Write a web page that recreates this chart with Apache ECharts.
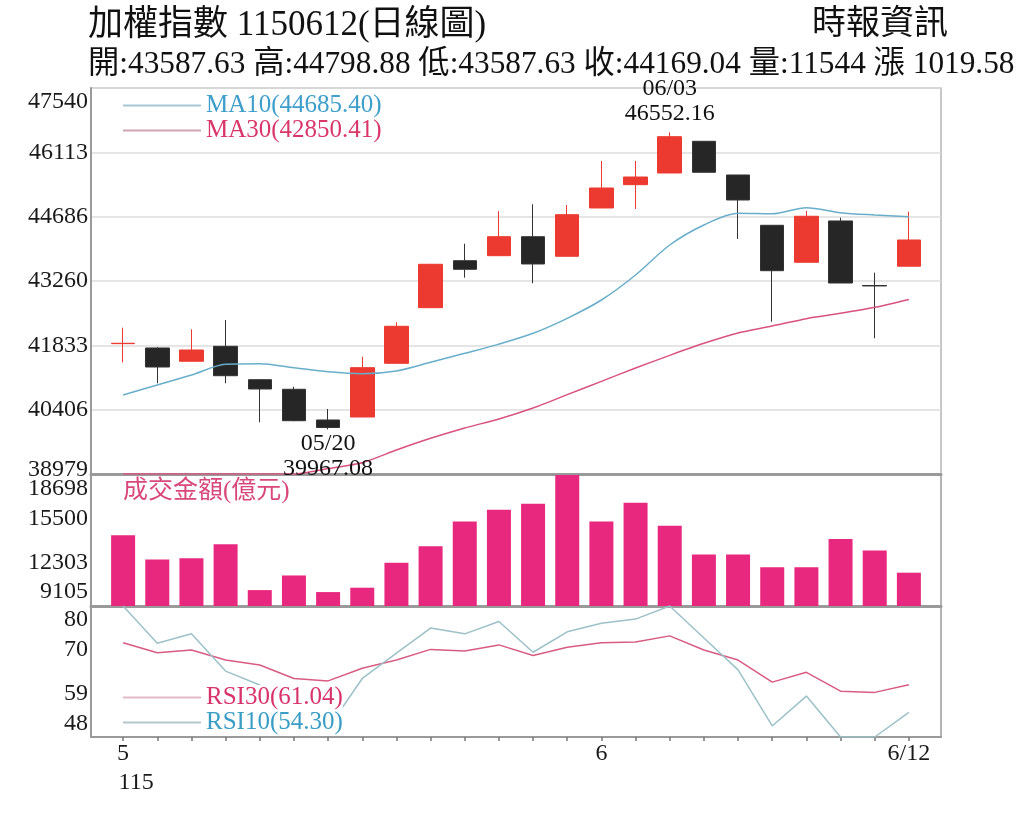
<!DOCTYPE html>
<html>
<head>
<meta charset="utf-8">
<script src="https://cdn.jsdelivr.net/npm/echarts@6/dist/echarts.min.js"></script>
<style>
  html, body { margin: 0; background: #fff; }
  #chart { width: 1024px; height: 820px; }
</style>
</head>
<body>
<div id="chart"></div>
<script>
const DATES = ['05/12', '05/13', '05/14', '05/15', '05/18', '05/19', '05/20', '05/21', '05/22', '05/25', '05/26', '05/27',
  '05/28', '05/29', '06/01', '06/02', '06/03', '06/04', '06/05', '06/08', '06/09', '06/10', '06/11', '06/12'];
const OPEN = [41870, 41774, 41479, 41811, 41071, 40858, 40177, 40243, 41434, 42668, 43710, 43821,
  44242, 43808, 44879, 45396, 45655, 46358, 45611, 44495, 43675, 44591, 43160, 43587.63];
const CLOSE = [41878, 41352, 41729, 41159, 40864, 40161, 40010, 41337, 42255, 43630, 43519, 44242,
  43637, 44730, 45322, 45566, 46460, 45671, 45056, 43488, 44695, 43215, 43149.46, 44169.04];
const LOW = [41457, 40991, 41479, 40991, 40126, 40150, 39967.08, 40243, 41434, 42668, 43333, 43821,
  43209, 43808, 44879, 44857, 45655, 45671, 44191, 42357, 43675, 43215, 41989, 43587.63];
const HIGH = [42224, 41790, 42188, 42395, 41080, 40915, 40421, 41581, 42344, 43640, 44087, 44812,
  44961, 44945, 45921, 45921, 46552.16, 46358, 45611, 44495, 44812, 44664, 43444, 44798.88];
const MA10 = [40731, 40953, 41175, 41412, 41425, 41337, 41248, 41204, 41264, 41456, 41656, 41860,
  42100, 42432, 42838, 43393, 44058, 44502, 44761, 44750, 44886, 44775, 44724, 44685.40];
const MA30 = [38979, 38979, 38979, 38979, 38979, 38979, 39100, 39230, 39511, 39770, 40000, 40200,
  40443, 40739, 41034, 41330, 41610, 41877, 42106, 42261, 42424, 42542, 42675, 42850.41];
const VOLUME = [14277, 12507, 12601, 13621, 10270, 11341, 10125, 10445, 12266, 13475, 15296, 16149,
  16586, 18698, 15296, 16658, 14983, 12871, 12871, 11946, 11946, 14014, 13162, 11544];
const RSI10 = [80.3, 71.2, 73.5, 64.4, 61.0, 55.0, 50.4, 62.6, 68.8, 74.9, 73.5, 76.5,
  69.0, 74.0, 76.1, 77.1, 80.3, 72.5, 64.7, 51.0, 58.3, 48.3, 48.3, 54.30];
const RSI30 = [71.3, 68.9, 69.55, 67.1, 65.9, 62.6, 62.0, 65.1, 67.1, 69.7, 69.3, 70.8,
  68.2, 70.2, 71.3, 71.5, 73.0, 69.55, 67.1, 61.7, 64.1, 59.5, 59.2, 61.04];

const PRICE_TICKS = [38979, 40406, 41833, 43260, 44686, 46113, 47540];
const VOLUME_TICKS = [9105, 12303, 15500, 18698];
const RSI_TICKS = [48.3, 58.97, 69.63, 80.3];
const X_LABEL_POS = [0, 14, 23];
const X_LABEL_TEXT = ['5', '6', '6/12'];
const YEAR_LABEL = '115';

const SERIF = "'Liberation Serif', 'Noto Sans CJK TC', serif";
const CJK = "'Liberation Serif', 'Noto Sans CJK TC', sans-serif";
const RED = '#EC3A30';
const BLACK = '#262626';

const n = DATES.length;
const last = n - 1;
const idx = DATES.map((_, i) => i);
const xy = (arr) => arr.map((v, i) => [i, v]);
const candles = idx.map((i) => [i, OPEN[i], CLOSE[i], LOW[i], HIGH[i]]);

const hiIdx = HIGH.indexOf(Math.max(...HIGH));
const loIdx = LOW.indexOf(Math.min(...LOW));
const change = (CLOSE[last] - CLOSE[last - 1]).toFixed(2);
const header = `開:${OPEN[last].toFixed(2)} 高:${HIGH[last].toFixed(2)} 低:${LOW[last].toFixed(2)} 收:${CLOSE[last].toFixed(2)} 量:${VOLUME[last]} 漲 ${change}`;

const ma10Name = `MA10(${MA10[last].toFixed(2)})`;
const ma30Name = `MA30(${MA30[last].toFixed(2)})`;
const rsi10Name = `RSI10(${RSI10[last].toFixed(2)})`;
const rsi30Name = `RSI30(${RSI30[last].toFixed(2)})`;

const X_MIN = -0.94, X_MAX = 23.94;

function xAxis(gridIndex, width) {
  return {
    type: 'value', gridIndex, min: X_MIN, max: X_MAX,
    axisLine: { show: true, onZero: false, lineStyle: { color: '#9a9a9a', width } },
    axisTick: { show: false }, axisLabel: { show: false }, splitLine: { show: false },
  };
}

function yAxis(gridIndex, min, max, ticks) {
  return {
    type: 'value', gridIndex, min, max,
    axisLine: { show: true, onZero: false, lineStyle: { color: '#9a9a9a', width: 2 } },
    axisTick: { show: false, customValues: ticks },
    axisLabel: {
      customValues: ticks, color: '#1a1a1a', fontFamily: SERIF, fontSize: 24, margin: 3, lineHeight: 27,
      showMinLabel: true, showMaxLabel: true, hideOverlap: false,
      verticalAlignMinLabel: 'bottom', verticalAlignMaxLabel: 'top',
      formatter: (v) => String(Math.round(v)),
    },
    splitLine: { show: false },
  };
}

const priceAxis = yAxis(0, PRICE_TICKS[0], PRICE_TICKS[PRICE_TICKS.length - 1], PRICE_TICKS);
priceAxis.splitLine = { show: true, lineStyle: { color: '#dcdcdc', width: 1.5 } };
priceAxis.axisLabel.lineHeight = 28;
priceAxis.axisLabel.formatter = (v) => (v === PRICE_TICKS[0] ? `{b|${v}}` : String(Math.round(v)));
priceAxis.axisLabel.rich = { b: { fontFamily: SERIF, fontSize: 24, lineHeight: 8, color: '#1a1a1a' } };

const volumeAxis = yAxis(1, VOLUME_TICKS[0], VOLUME_TICKS[VOLUME_TICKS.length - 1], VOLUME_TICKS);
volumeAxis.axisLabel.lineHeight = 28;

const bottomAxis = xAxis(2, 2);
bottomAxis.axisTick = { show: true, customValues: idx, length: 4, lineStyle: { color: '#777', width: 1.5 } };
bottomAxis.axisLabel = {
  show: true, customValues: X_LABEL_POS, margin: 2, color: '#1a1a1a',
  fontFamily: SERIF, fontSize: 24, lineHeight: 29,
  formatter: (v) => {
    const k = X_LABEL_POS.indexOf(Math.round(v));
    if (k === 0) return `{n|${X_LABEL_TEXT[0]}}\n{p|${YEAR_LABEL}}`;
    return X_LABEL_TEXT[k];
  },
  rich: {
    n: { fontFamily: SERIF, fontSize: 24, lineHeight: 29, color: '#1a1a1a' },
    p: { fontFamily: SERIF, fontSize: 24, lineHeight: 29, color: '#1a1a1a', padding: [0, 0, 0, 26] },
  },
};

const legendText = { fontFamily: SERIF, fontSize: 25, lineHeight: 25 };
const legendItem = (name, text, line) => ({
  name, icon: 'rect', textStyle: { color: text }, itemStyle: { color: line, borderWidth: 0 },
});

const option = {
  animation: false,
  backgroundColor: '#fff',
  title: [
    { text: '加權指數 1150612(日線圖)', left: 88, top: 8, padding: 0,
      textStyle: { fontFamily: CJK, fontSize: 35, fontWeight: 'normal', color: '#111' } },
    { text: '時報資訊', left: 812, top: 8, padding: 0,
      textStyle: { fontFamily: CJK, fontSize: 34, fontWeight: 'normal', color: '#111' } },
    { text: header, left: 88, top: 49, padding: 0,
      textStyle: { fontFamily: CJK, fontSize: 31.3, fontWeight: 'normal', color: '#111' } },
    { text: '成交金額(億元)', left: 123, top: 479, padding: 0,
      textStyle: { fontFamily: CJK, fontSize: 25, fontWeight: 'normal', color: '#D8487A' } },
  ],
  legend: [
    {
      orient: 'vertical', left: 123, top: 93, padding: 0, itemGap: 0,
      itemWidth: 78, itemHeight: 2, selectedMode: false, textStyle: legendText,
      data: [
        legendItem(ma10Name, '#3E9FCB', '#a9c8d4'),
        legendItem(ma30Name, '#D9376A', '#cfa3b3'),
      ],
    },
    {
      orient: 'vertical', left: 123, top: 685, padding: 0, itemGap: 0, backgroundColor: '#fff',
      itemWidth: 78, itemHeight: 2, selectedMode: false, textStyle: legendText,
      data: [
        legendItem(rsi30Name, '#D8336A', '#e6b9c8'),
        legendItem(rsi10Name, '#3A9DC5', '#b3c6cc'),
      ],
    },
  ],
  grid: [
    { left: 91, right: 83, top: 88, height: 386, show: true, borderColor: '#b5b5b5', borderWidth: 1.5 },
    { left: 91, right: 83, top: 475, height: 131, show: true, borderColor: '#9a9a9a', borderWidth: 1.5 },
    { left: 91, right: 83, top: 606, height: 131, show: true, borderColor: '#9a9a9a', borderWidth: 1.5 },
  ],
  xAxis: [xAxis(0, 3), xAxis(1, 3), bottomAxis],
  yAxis: [
    priceAxis,
    volumeAxis,
    yAxis(2, RSI_TICKS[0], RSI_TICKS[RSI_TICKS.length - 1], RSI_TICKS),
  ],
  series: [
    {
      name: 'K', type: 'candlestick', xAxisIndex: 0, yAxisIndex: 0, barWidth: 24,
      data: candles,
      itemStyle: { color: RED, color0: BLACK, borderColor: RED, borderColor0: '#333', borderWidth: 1 },
      markPoint: {
        symbol: 'circle', symbolSize: 0,
        label: { show: true, fontFamily: SERIF, fontSize: 24, lineHeight: 25, color: '#111' },
        data: [
          { coord: [hiIdx, HIGH[hiIdx]],
            label: { position: 'top', distance: 6, formatter: `${DATES[hiIdx]}\n${HIGH[hiIdx].toFixed(2)}` } },
          { coord: [loIdx, LOW[loIdx]],
            label: { position: 'bottom', distance: 2, formatter: `${DATES[loIdx]}\n${LOW[loIdx].toFixed(2)}` } },
        ],
      },
    },
    { name: ma10Name, type: 'line', xAxisIndex: 0, yAxisIndex: 0, data: xy(MA10), symbol: 'none', smooth: 0.3,
      lineStyle: { color: '#68AECB', width: 1.5 }, itemStyle: { color: '#68AECB' } },
    { name: ma30Name, type: 'line', xAxisIndex: 0, yAxisIndex: 0, data: xy(MA30), symbol: 'none', smooth: 0.2,
      lineStyle: { color: '#D8527E', width: 1.5 }, itemStyle: { color: '#D8527E' } },
    { name: 'VOL', type: 'bar', xAxisIndex: 1, yAxisIndex: 1, data: xy(VOLUME), barWidth: 24,
      itemStyle: { color: '#E8287F' } },
    { name: rsi30Name, type: 'line', xAxisIndex: 2, yAxisIndex: 2, data: xy(RSI30), symbol: 'none',
      lineStyle: { color: '#D85C82', width: 1.5 }, itemStyle: { color: '#D85C82' } },
    { name: rsi10Name, type: 'line', xAxisIndex: 2, yAxisIndex: 2, data: xy(RSI10), symbol: 'none',
      lineStyle: { color: '#9CC1C8', width: 1.5 }, itemStyle: { color: '#9CC1C8' } },
  ],
};

const chart = echarts.init(document.getElementById('chart'), null, { renderer: 'canvas' });
chart.setOption(option);
</script>
</body>
</html>
